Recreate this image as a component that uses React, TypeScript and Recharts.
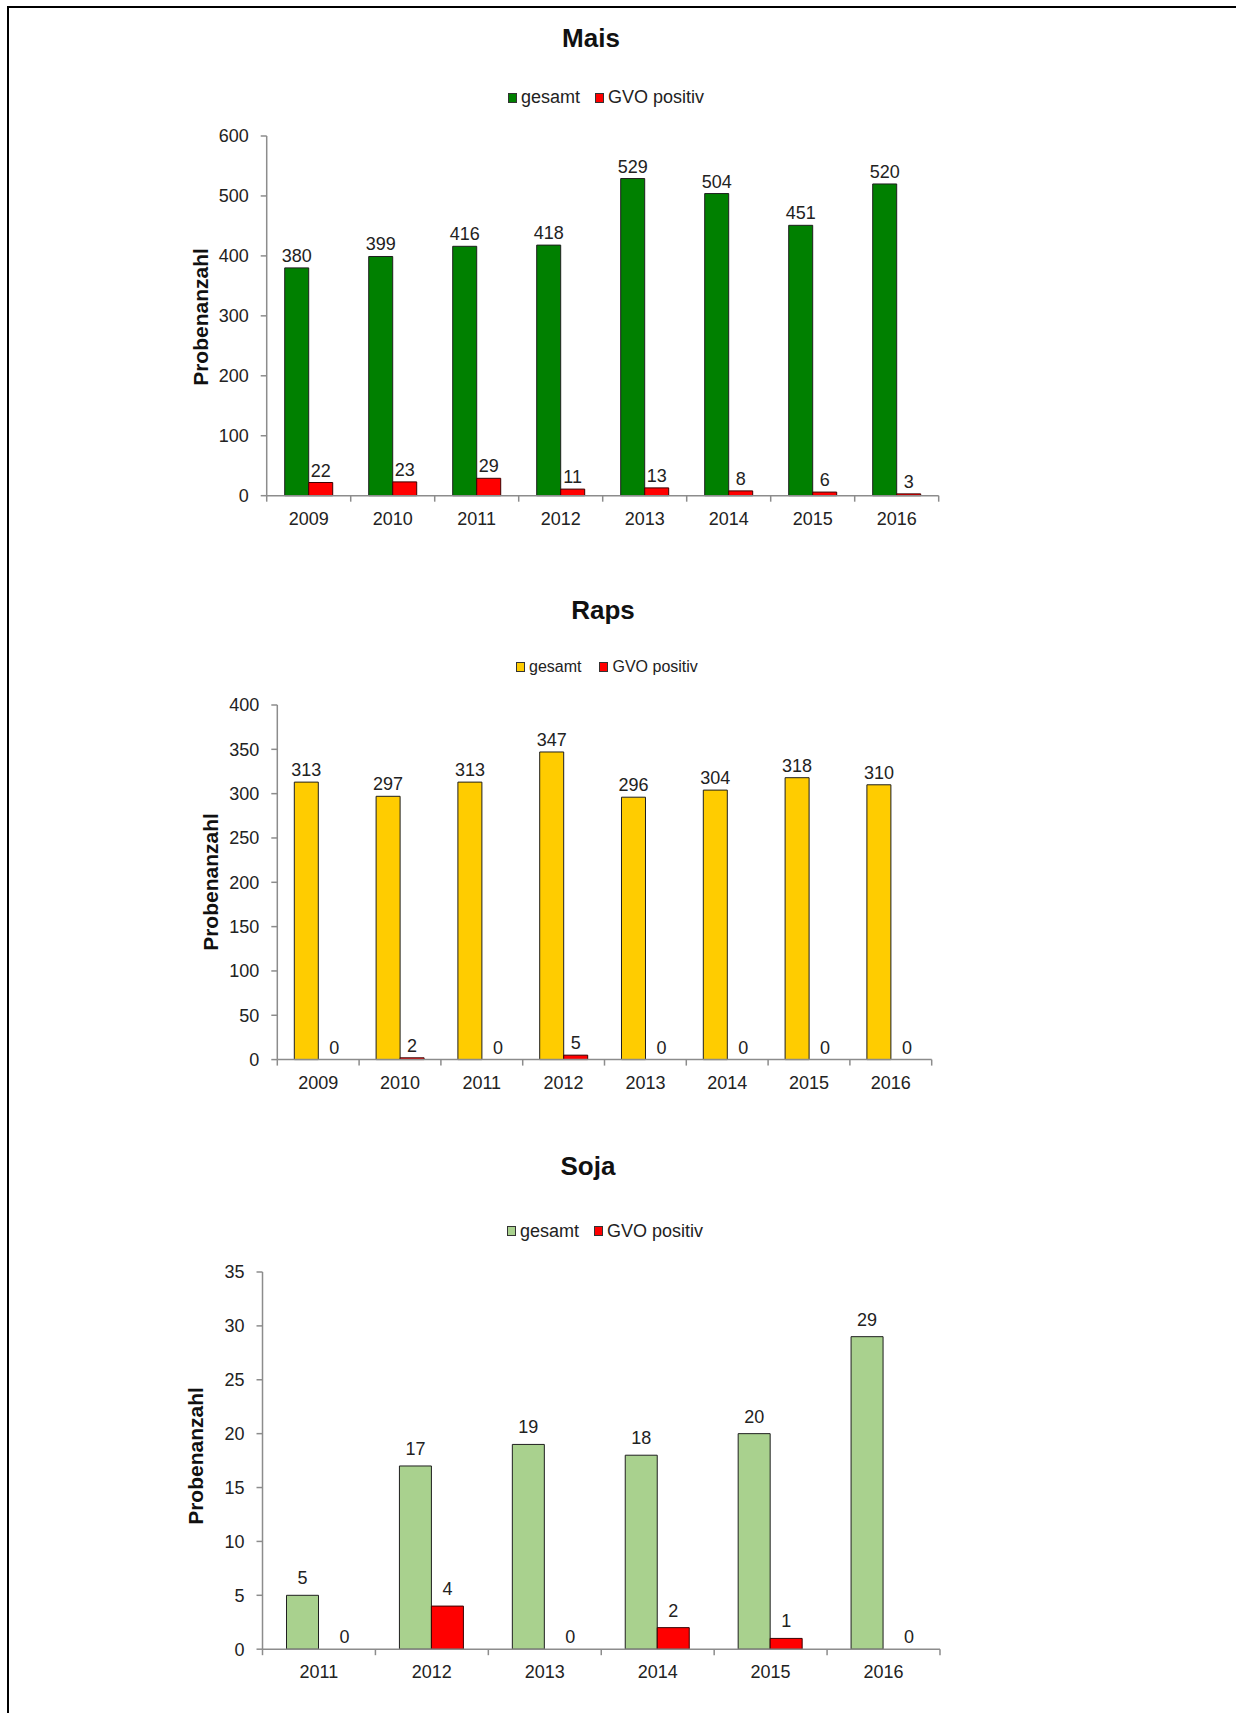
import React from "react";
import { BarChart, Bar, XAxis, YAxis, LabelList, Cell } from "recharts";

const maisYears = ["2009", "2010", "2011", "2012", "2013", "2014", "2015", "2016"];
const maisGesamt = [380, 399, 416, 418, 529, 504, 451, 520];
const maisPositiv = [22, 23, 29, 11, 13, 8, 6, 3];
const maisTicks = [0, 100, 200, 300, 400, 500, 600];

const rapsYears = ["2009", "2010", "2011", "2012", "2013", "2014", "2015", "2016"];
const rapsGesamt = [313, 297, 313, 347, 296, 304, 318, 310];
const rapsPositiv = [0, 2, 0, 5, 0, 0, 0, 0];
const rapsTicks = [0, 50, 100, 150, 200, 250, 300, 350, 400];

const sojaYears = ["2011", "2012", "2013", "2014", "2015", "2016"];
const sojaGesamt = [5, 17, 19, 18, 20, 29];
const sojaPositiv = [0, 4, 0, 2, 1, 0];
const sojaTicks = [0, 5, 10, 15, 20, 25, 30, 35];

const FONT = '"Liberation Sans", Arial, sans-serif';
const TEXT = "#222";
const AXIS = "#8c8c8c";
const RED = "#ff0000";
const PAGE_W = 1236;

function BoundaryTick(props: any) {
  const { x, y, payload, index, count, half } = props;
  const h = payload && typeof payload.offset === "number" && payload.offset > 0 ? payload.offset : half;
  return (
    <g>
      <line x1={x - h} x2={x - h} y1={y} y2={y + 6} stroke={AXIS} strokeWidth={1.5} />
      {index === count - 1 && <line x1={x + h} x2={x + h} y1={y} y2={y + 6} stroke={AXIS} strokeWidth={1.5} />}
      <text x={x} y={y + 29} textAnchor="middle" fontSize={18} fill={TEXT} fontFamily={FONT}>
        {payload.value}
      </text>
    </g>
  );
}

// value label above a bar; Excel puts the zero labels a bit to the right
function ValueLabel(props: any) {
  const { x, y, width, value, offset, zeroDx } = props;
  const isZero = Number(value) === 0;
  return (
    <text
      x={Number(x) + Number(width) / 2 + (isZero ? zeroDx : 0)}
      y={Number(y) - (isZero ? 6 : offset)}
      textAnchor="middle"
      fontSize={18}
      fill={TEXT}
      fontFamily={FONT}
    >
      {value}
    </text>
  );
}

interface PanelProps {
  title: string;
  titleX: number;
  titleY: number;
  legendX: number;
  legendY: number;
  legendGap: number;
  legendFont: number;
  years: string[];
  gesamt: number[];
  positiv: number[];
  ticks: number[];
  color: string;
  plot: { left: number; right: number; top: number; bottom: number };
  barSize: number;
  labelX: number;
  labelY: number;
  labelOffset: number;
  zeroDx: number;
}

function Panel(p: PanelProps) {
  const data = p.years.map((year, i) => ({ year, gesamt: p.gesamt[i], positiv: p.positiv[i] }));
  const chartTop = p.plot.top - 30;
  const chartH = p.plot.bottom - chartTop + 50;
  const yAxisW = 60;
  const half = (p.plot.right - p.plot.left) / p.years.length / 2;
  const swatch = (c: string) => (
    <span style={{ display: "inline-block", width: 9, height: 10, background: c, border: "1px solid #333", boxSizing: "border-box", marginRight: 4 }} />
  );
  return (
    <>
      <div style={{ position: "absolute", left: p.titleX - 100, width: 200, top: p.titleY - 16, textAlign: "center", fontFamily: FONT, fontWeight: "bold", fontSize: 26, lineHeight: "32px", color: "#111" }}>
        {p.title}
      </div>
      <div style={{ position: "absolute", left: p.legendX, top: p.legendY - 11, height: 22, display: "flex", alignItems: "center", fontFamily: FONT, fontSize: p.legendFont, color: TEXT, whiteSpace: "nowrap" }}>
        {swatch(p.color)}
        <span style={{ marginRight: p.legendGap }}>gesamt</span>
        {swatch(RED)}
        <span>GVO positiv</span>
      </div>
      <div style={{ position: "absolute", left: p.labelX - 100, top: p.labelY - 14, width: 200, height: 28, lineHeight: "28px", textAlign: "center", transform: "rotate(-90deg)", fontFamily: FONT, fontWeight: "bold", fontSize: 21, color: "#111" }}>
        Probenanzahl
      </div>
      <div style={{ position: "absolute", left: 0, top: chartTop }}>
        <BarChart
          width={PAGE_W}
          height={chartH}
          data={data}
          barGap={0}
          margin={{ top: 30, bottom: 20, left: p.plot.left - yAxisW, right: PAGE_W - p.plot.right }}
        >
          <XAxis
            dataKey="year"
            height={30}
            axisLine={{ stroke: AXIS, strokeWidth: 1.5 }}
            tickLine={false}
            tickSize={0}
            tickMargin={0}
            interval={0}
            tick={(tp: any) => <BoundaryTick {...tp} count={p.years.length} half={half} />}
          />
          <YAxis
            width={yAxisW}
            domain={[p.ticks[0], p.ticks[p.ticks.length - 1]]}
            ticks={p.ticks}
            interval={0}
            axisLine={{ stroke: AXIS, strokeWidth: 1.5 }}
            tickLine={{ stroke: AXIS, strokeWidth: 1.5 }}
            tickSize={6}
            tickMargin={12}
            tick={{ fontSize: 18, fill: TEXT, fontFamily: FONT }}
          />
          <Bar dataKey="gesamt" fill={p.color} stroke="#1e1e1e" strokeWidth={1} barSize={p.barSize} isAnimationActive={false}>
            <LabelList dataKey="gesamt" content={(lp: any) => <ValueLabel {...lp} offset={p.labelOffset} zeroDx={0} />} />
          </Bar>
          <Bar dataKey="positiv" fill={RED} stroke="#3a0000" strokeWidth={1} barSize={p.barSize} minPointSize={0.01} isAnimationActive={false}>
            {p.positiv.map((v, i) => (
              <Cell key={i} fill={v === 0 ? "none" : RED} stroke={v === 0 ? "none" : "#3a0000"} />
            ))}
            <LabelList dataKey="positiv" content={(lp: any) => <ValueLabel {...lp} offset={p.labelOffset} zeroDx={p.zeroDx} />} />
          </Bar>
        </BarChart>
      </div>
    </>
  );
}

export default function App() {
  return (
    <div style={{ position: "absolute", left: 0, top: 0, width: PAGE_W, height: 1713, background: "#fff", overflow: "hidden" }}>
      <div style={{ position: "absolute", left: 7, top: 6, right: 0, bottom: 0, borderTop: "2px solid #000", borderLeft: "2px solid #000" }} />
      <Panel
        title="Mais"
        titleX={591}
        titleY={38}
        legendX={508}
        legendY={97.5}
        legendGap={15}
        legendFont={18}
        years={maisYears}
        gesamt={maisGesamt}
        positiv={maisPositiv}
        ticks={maisTicks}
        color="#008000"
        plot={{ left: 266.7, right: 938.7, top: 136, bottom: 495.7 }}
        barSize={24}
        labelX={201}
        labelY={317}
        labelOffset={6}
        zeroDx={0}
      />
      <Panel
        title="Raps"
        titleX={603}
        titleY={610}
        legendX={516}
        legendY={667}
        legendGap={18}
        legendFont={16}
        years={rapsYears}
        gesamt={rapsGesamt}
        positiv={rapsPositiv}
        ticks={rapsTicks}
        color="#ffcc00"
        plot={{ left: 277.3, right: 931.7, top: 705.4, bottom: 1060 }}
        barSize={24}
        labelX={211}
        labelY={882}
        labelOffset={6}
        zeroDx={4}
      />
      <Panel
        title="Soja"
        titleX={588}
        titleY={1166}
        legendX={507}
        legendY={1231}
        legendGap={15}
        legendFont={18}
        years={sojaYears}
        gesamt={sojaGesamt}
        positiv={sojaPositiv}
        ticks={sojaTicks}
        color="#a9d18e"
        plot={{ left: 262.5, right: 940, top: 1272.3, bottom: 1649.5 }}
        barSize={32}
        labelX={195.5}
        labelY={1456}
        labelOffset={11}
        zeroDx={10}
      />
    </div>
  );
}
